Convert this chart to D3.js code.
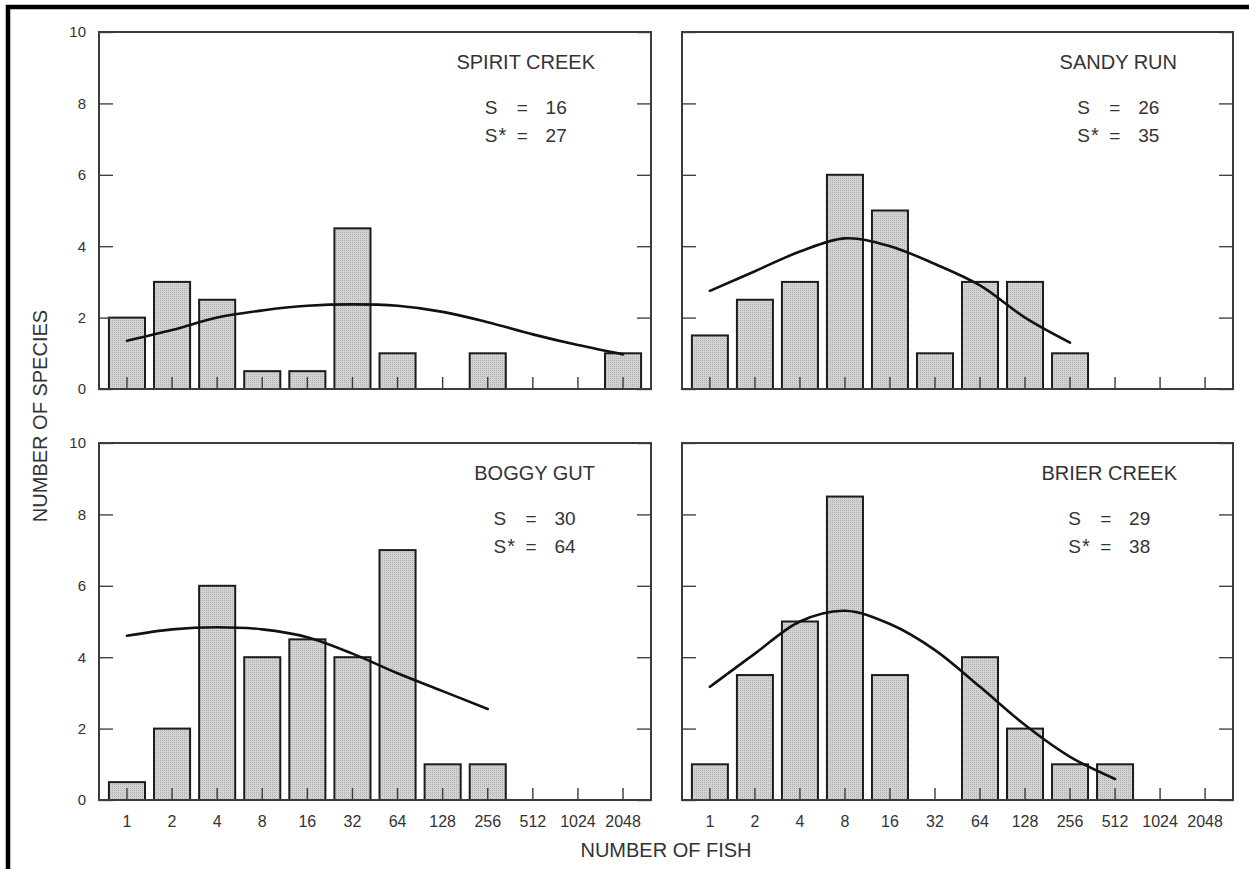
<!DOCTYPE html>
<html>
<head>
<meta charset="utf-8">
<script src="https://cdn.jsdelivr.net/npm/d3@7/dist/d3.min.js"></script>
<style>
  html, body { margin: 0; padding: 0; background: #fff; }
  svg { display: block; }
  text { font-family: "Liberation Sans", Arial, Helvetica, sans-serif; fill: #333; }
</style>
</head>
<body>
<script>
// ---------------- DATA ----------------
const categories = ["1", "2", "4", "8", "16", "32", "64", "128", "256", "512", "1024", "2048"];
const yTicks = [0, 2, 4, 6, 8, 10];

const panelNames = ["SPIRIT CREEK", "SANDY RUN", "BOGGY GUT", "BRIER CREEK"];
const sObserved = [16, 26, 30, 29];
const sEstimated = [27, 35, 64, 38];

// number of species per octave class (bars)
const spiritBars = [2, 3, 2.5, 0.5, 0.5, 4.5, 1, 0, 1, 0, 0, 1];
const sandyBars  = [1.5, 2.5, 3, 6, 5, 1, 3, 3, 1, 0, 0, 0];
const boggyBars  = [0.5, 2, 6, 4, 4.5, 4, 7, 1, 1, 0, 0, 0];
const brierBars  = [1, 3.5, 5, 8.5, 3.5, 0, 4, 2, 1, 1, 0, 0];

// fitted (truncated lognormal) curves, read at each class from category "1" onward
const spiritCurve = [1.35, 1.65, 2.0, 2.2, 2.33, 2.37, 2.33, 2.16, 1.87, 1.53, 1.23, 0.97];
const sandyCurve  = [2.75, 3.3, 3.85, 4.22, 4.0, 3.5, 2.9, 2.0, 1.3];
const boggyCurve  = [4.6, 4.78, 4.84, 4.78, 4.56, 4.1, 3.55, 3.05, 2.55];
const brierCurve  = [3.17, 4.1, 5.0, 5.3, 4.93, 4.2, 3.17, 2.1, 1.21, 0.59];

const xAxisTitle = "NUMBER OF FISH";
const yAxisTitle = "NUMBER OF SPECIES";

// ---------------- LAYOUT ----------------
const W = 1249, H = 869;
const svg = d3.select("body").append("svg").attr("width", W).attr("height", H);
svg.append("rect").attr("width", W).attr("height", H).attr("fill", "#fff");

const defs = svg.append("defs");
const pat = defs.append("pattern").attr("id", "stipple")
  .attr("patternUnits", "userSpaceOnUse").attr("width", 2).attr("height", 2);
pat.append("rect").attr("width", 2).attr("height", 2).attr("fill", "#d3d3d3");
pat.append("rect").attr("width", 1).attr("height", 1).attr("fill", "#b2b2b2");

const boxes = [
  { x0: 99,  x1: 651,  y0: 32,  y1: 389, showY: true,  showX: false },
  { x0: 682, x1: 1233, y0: 32,  y1: 389, showY: false, showX: false },
  { x0: 99,  x1: 651,  y0: 443, y1: 800, showY: true,  showX: true },
  { x0: 682, x1: 1233, y0: 443, y1: 800, showY: false, showX: true }
];
const barsets = [spiritBars, sandyBars, boggyBars, brierBars];
const curves = [spiritCurve, sandyCurve, boggyCurve, brierCurve];

boxes.forEach((b, p) => {
  const g = svg.append("g");
  const x = d3.scaleBand().domain(categories).range([b.x0, b.x1])
    .paddingInner(0.2).paddingOuter(0.22);
  const y = d3.scaleLinear().domain([0, 10]).range([b.y1, b.y0]);
  const bw = x.bandwidth();

  // bars
  const barData = barsets[p].map((v, i) => ({ c: categories[i], v })).filter(d => d.v > 0);
  g.selectAll("rect.bar").data(barData).enter().append("rect")
    .attr("class", "bar")
    .attr("x", d => x(d.c))
    .attr("y", d => y(d.v))
    .attr("width", bw)
    .attr("height", d => y(0) - y(d.v))
    .attr("fill", "url(#stipple)")
    .attr("stroke", "#1c1c1c")
    .attr("stroke-width", 2);

  // x ticks (upward, inside) + labels
  const xAxis = d3.axisBottom(x).tickSizeInner(-12).tickSizeOuter(0).tickPadding(16)
    .tickFormat(b.showX ? (d => d) : (() => ""));
  const gx = g.append("g").attr("transform", `translate(0,${b.y1})`).call(xAxis);
  gx.select(".domain").remove();
  gx.selectAll(".tick line").attr("stroke", "#3a3a3a").attr("stroke-width", 1.4);
  gx.selectAll(".tick text").attr("font-size", 16).attr("fill", "#333")
    .attr("font-family", "'Liberation Sans', Arial, sans-serif");

  // y ticks left (inward) + labels
  const yAxisL = d3.axisLeft(y).tickValues(yTicks).tickSizeInner(-14).tickSizeOuter(0).tickPadding(13)
    .tickFormat(b.showY ? d3.format("d") : (() => ""));
  const gyl = g.append("g").attr("transform", `translate(${b.x0},0)`).call(yAxisL);
  gyl.select(".domain").remove();
  gyl.selectAll(".tick line").attr("stroke", "#444").attr("stroke-width", 1.4);
  gyl.selectAll(".tick text").attr("font-size", 15).attr("fill", "#333")
    .attr("font-family", "'Liberation Sans', Arial, sans-serif");

  // y ticks right (inward)
  const yAxisR = d3.axisRight(y).tickValues(yTicks).tickSizeInner(-14).tickSizeOuter(0).tickFormat(() => "");
  const gyr = g.append("g").attr("transform", `translate(${b.x1},0)`).call(yAxisR);
  gyr.select(".domain").remove();
  gyr.selectAll(".tick line").attr("stroke", "#444").attr("stroke-width", 1.4);

  // frame
  g.append("rect")
    .attr("x", b.x0).attr("y", b.y0)
    .attr("width", b.x1 - b.x0).attr("height", b.y1 - b.y0)
    .attr("fill", "none").attr("stroke", "#3c3c3c").attr("stroke-width", 2);

  // fitted curve
  const curveData = curves[p].map((v, i) => ({ c: categories[i], v }));
  const line = d3.line()
    .x(d => x(d.c) + bw / 2)
    .y(d => y(d.v))
    .curve(d3.curveCatmullRom.alpha(0.5));
  g.append("path").datum(curveData)
    .attr("d", line)
    .attr("fill", "none")
    .attr("stroke", "#111")
    .attr("stroke-width", 2.6)
    .attr("stroke-linecap", "round");

  // title and S values
  const title = g.append("text")
    .attr("x", b.x1 - 56).attr("y", b.y0 + 37)
    .attr("text-anchor", "end").attr("font-size", 20)
    .text(panelNames[p]);
  const tl = title.node().getComputedTextLength();
  const c = b.x1 - 56 - tl / 2;

  const rows = [
    { lab: "S", star: false, val: sObserved[p], yy: b.y0 + 82 },
    { lab: "S", star: true,  val: sEstimated[p], yy: b.y0 + 110 }
  ];
  rows.forEach(r => {
    const t = g.append("text").attr("x", c - 41).attr("y", r.yy).attr("font-size", 19);
    t.append("tspan").text(r.lab);
    if (r.star) t.append("tspan").attr("dx", 1).attr("font-size", 20).text("*");
    g.append("text").attr("x", c - 9).attr("y", r.yy).attr("font-size", 19).text("=");
    g.append("text").attr("x", c + 41).attr("y", r.yy).attr("font-size", 19)
      .attr("text-anchor", "end").text(r.val);
  });
});

// axis titles
svg.append("text")
  .attr("x", 666).attr("y", 857)
  .attr("text-anchor", "middle").attr("font-size", 20)
  .text(xAxisTitle);
svg.append("text")
  .attr("transform", "translate(47,416) rotate(-90)")
  .attr("text-anchor", "middle").attr("font-size", 20)
  .text(yAxisTitle);

// outer border (left and top)
svg.append("path")
  .attr("d", `M8,${H} V7 H${W}`)
  .attr("fill", "none").attr("stroke", "#000").attr("stroke-width", 4.5);
</script>
</body>
</html>
